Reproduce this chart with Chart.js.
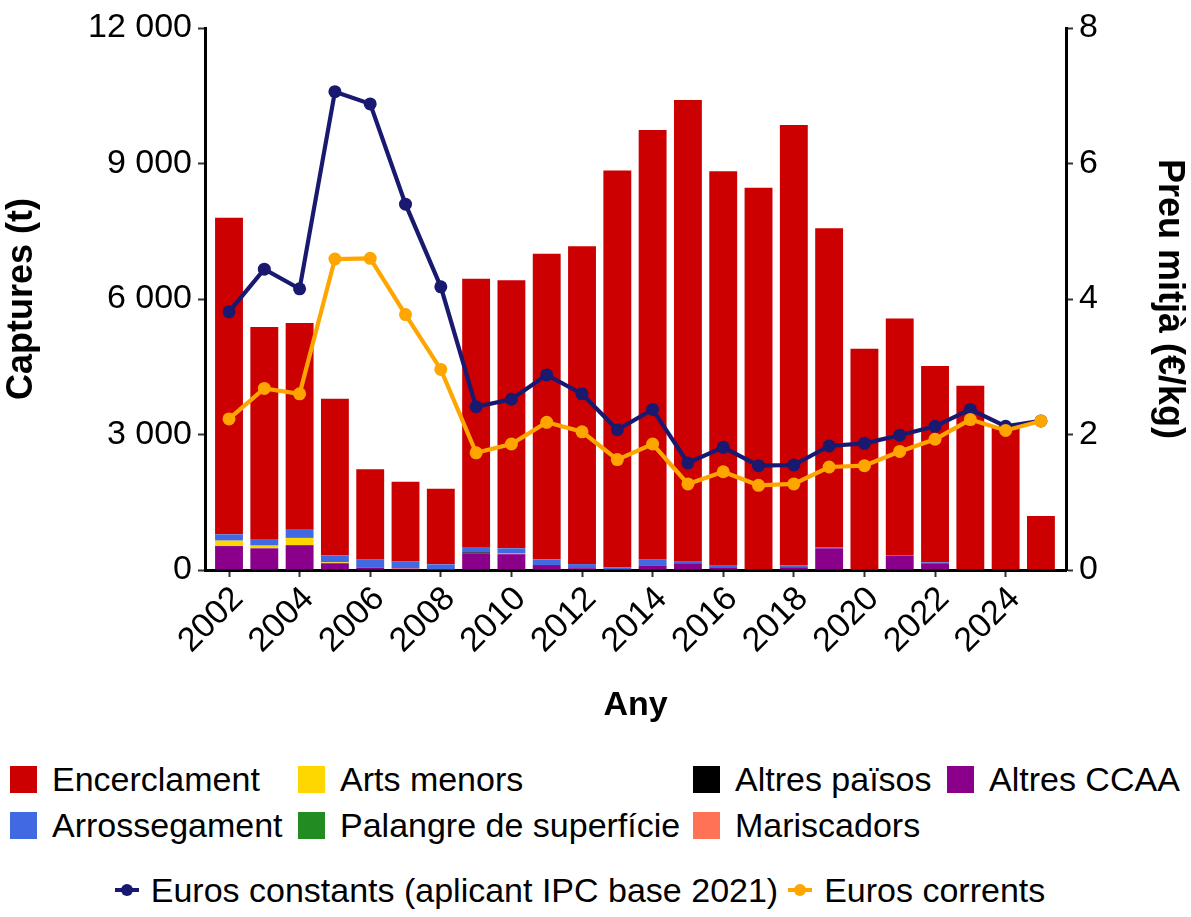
<!DOCTYPE html>
<html><head><meta charset="utf-8">
<script src="https://cdn.jsdelivr.net/npm/chart.js@4.4.1/dist/chart.umd.min.js"></script>
<style>
html,body{margin:0;padding:0;background:#fff;width:1191px;height:917px;overflow:hidden;font-family:"Liberation Sans",Arial,sans-serif;}
#wrap{position:absolute;left:0;top:0;width:1191px;height:740px;}
.leg{position:absolute;font-size:34px;color:#000;display:flex;align-items:center;white-space:nowrap;line-height:1;height:34px}
.sw{width:27px;height:27px;margin-right:15px;flex:none}
.mk{position:relative;width:24px;height:12px;margin-right:12px;flex:none}
.mk i{position:absolute;left:0;top:4px;width:24px;height:4px}
.mk b{position:absolute;left:6px;top:0;width:12px;height:12px;border-radius:50%}
</style></head>
<body>
<div id="wrap"><canvas id="c" width="1191" height="740"></canvas></div>
<div id="legend"></div>
<script>
const years = [2002,2003,2004,2005,2006,2007,2008,2009,2010,2011,2012,2013,2014,2015,2016,2017,2018,2019,2020,2021,2022,2023,2024,2025];
const tickYears = [2002,2004,2006,2008,2010,2012,2014,2016,2018,2020,2022,2024];
const yTicks = [0,3000,6000,9000,12000];
const y1Ticks = [0,2,4,6,8];

// Captures (t) per fleet segment
const encerclament   = [7010,4710,4580,3470,1990,1765,1675,5960,5935,6770,7040,8785,9500,10205,8720,8465,9750,7065,4880,5240,4345,4080,3170,1195];
const arrossegament  = [140,130,180,150,190,150,125,100,110,120,90,60,150,50,50,0,30,20,20,20,20,0,0,0];
const artsMenors     = [120,60,160,20,0,0,0,0,0,0,0,0,0,0,0,0,0,0,0,0,0,0,0,0];
const palangre       = [0,0,0,0,0,0,0,0,0,0,0,0,0,0,0,0,0,0,0,0,0,0,0,0];
const altresPaisos   = [0,0,0,0,0,0,0,20,0,0,0,0,0,0,0,0,10,0,0,0,0,0,0,0];
const mariscadors    = [0,0,0,0,0,10,0,0,20,0,0,0,0,0,0,0,0,0,0,0,0,0,0,0];
const altresCCAA     = [530,480,550,150,50,30,0,370,350,110,40,0,90,150,60,0,60,480,0,310,150,0,0,0];

// Preu mitjà (€/kg)
const eurosConstants = [3.81,4.44,4.15,7.06,6.88,5.40,4.18,2.41,2.52,2.88,2.60,2.07,2.37,1.58,1.81,1.54,1.55,1.83,1.87,1.99,2.12,2.37,2.12,2.20];
const eurosCorrents  = [2.23,2.68,2.60,4.59,4.60,3.77,2.96,1.73,1.86,2.18,2.04,1.63,1.86,1.27,1.45,1.25,1.27,1.52,1.54,1.75,1.93,2.22,2.06,2.20];

const barSeries = [
  {label:'Encerclament', data:encerclament, color:'#CC0000'},
  {label:'Arrossegament', data:arrossegament, color:'#4169E1'},
  {label:'Arts menors', data:artsMenors, color:'#FFD700'},
  {label:'Palangre de superfície', data:palangre, color:'#228B22'},
  {label:'Altres països', data:altresPaisos, color:'#000000'},
  {label:'Mariscadors', data:mariscadors, color:'#FF7256'},
  {label:'Altres CCAA', data:altresCCAA, color:'#8B008B'}
];
const lineSeries = [
  {label:'Euros constants (aplicant IPC base 2021)', data:eurosConstants, color:'#191970'},
  {label:'Euros corrents', data:eurosCorrents, color:'#FFA500'}
];

const pts = arr => years.map((yr,i)=>({x:yr, y:arr[i]}));
const FONT = '"Liberation Sans", Arial, sans-serif';

const datasets = [];
lineSeries.forEach((s,k)=>{
  datasets.push({type:'line', label:s.label, data:pts(s.data), yAxisID:'y1',
    borderColor:s.color, backgroundColor:s.color, borderWidth:4.2,
    pointRadius:6.5, pointBackgroundColor:s.color, pointBorderWidth:0,
    order: k===1?0:1, tension:0});
});
barSeries.slice().reverse().forEach(s=>{
  datasets.push({type:'bar', label:s.label, data:pts(s.data), yAxisID:'y',
    backgroundColor:s.color, borderWidth:0, order:2,
    categoryPercentage:1, barPercentage:0.79});
});

const fmt = v => String(v).replace(/\B(?=(\d{3})+(?!\d))/g,' ');

new Chart(document.getElementById('c'), {
  data:{datasets},
  options:{
    responsive:false, animation:false,
    layout:{padding:{top:28,left:0,right:0,bottom:0}},
    plugins:{legend:{display:false}, tooltip:{enabled:false}},
    scales:{
      x:{type:'linear', stacked:true, offset:false, min:2001.32, max:2025.71,
        afterBuildTicks:s=>{s.ticks = tickYears.map(v=>({value:v}));},
        afterFit:s=>{s.height=170;},
        grid:{offset:false, drawOnChartArea:false, drawTicks:true, tickLength:7, tickColor:'#333', tickWidth:2},
        border:{display:true, color:'#000', width:3},
        ticks:{autoSkip:false, minRotation:45, maxRotation:45, color:'#000', padding:2, labelOffset:9,
          font:{family:FONT, size:34}, callback:v=>String(v)},
        title:{display:true, text:'Any', color:'#000', font:{family:FONT, size:34, weight:'bold'}, padding:{top:0,bottom:14}}
      },
      y:{type:'linear', position:'left', stacked:true, min:0, max:12000,
        afterBuildTicks:s=>{s.ticks = yTicks.map(v=>({value:v}));},
        afterFit:s=>{s.width=205;},
        grid:{drawOnChartArea:false, drawTicks:true, tickLength:7, tickColor:'#333', tickWidth:2},
        border:{display:true, color:'#000', width:3},
        ticks:{color:'#000', padding:6, font:{family:FONT, size:34}, callback:v=>fmt(v)},
        title:{display:true, text:'Captures (t)', color:'#000', font:{family:FONT, size:36, weight:'bold'}, padding:{top:0,bottom:9}}
      },
      y1:{type:'linear', position:'right', min:0, max:8,
        afterBuildTicks:s=>{s.ticks = y1Ticks.map(v=>({value:v}));},
        afterFit:s=>{s.width=125;},
        grid:{drawOnChartArea:false, drawTicks:true, tickLength:7, tickColor:'#333', tickWidth:2},
        border:{display:true, color:'#000', width:3},
        ticks:{color:'#000', padding:6, font:{family:FONT, size:34}},
        title:{display:true, text:'Preu mitjà (€/kg)', color:'#000', font:{family:FONT, size:36, weight:'bold'}, padding:{top:0,bottom:9}}
      }
    }
  }
});

// Legend (HTML) built from series definitions
const leg = document.getElementById('legend');
const colX = [10, 298, 693, 947];
const rowY = [762, 808];
barSeries.forEach((s,i)=>{
  const col = Math.floor(i/2), row = i%2;
  const d = document.createElement('div');
  d.className='leg';
  d.style.left = colX[col]+'px'; d.style.top = rowY[row]+'px';
  d.innerHTML = '<span class="sw" style="background:'+s.color+'"></span><span>'+s.label+'</span>';
  leg.appendChild(d);
});
const lineRow = document.createElement('div');
lineRow.className='leg';
lineRow.style.left='0px'; lineRow.style.width='1160px'; lineRow.style.top='873px'; lineRow.style.justifyContent='center';
lineSeries.forEach((s,i)=>{
  const m = document.createElement('span'); m.className='mk';
  m.innerHTML='<i style="background:'+s.color+'"></i><b style="background:'+s.color+'"></b>';
  if(i>0) m.style.marginLeft='10px';
  const t = document.createElement('span'); t.textContent = s.label;
  lineRow.appendChild(m); lineRow.appendChild(t);
});
leg.appendChild(lineRow);
</script>
</body></html>
